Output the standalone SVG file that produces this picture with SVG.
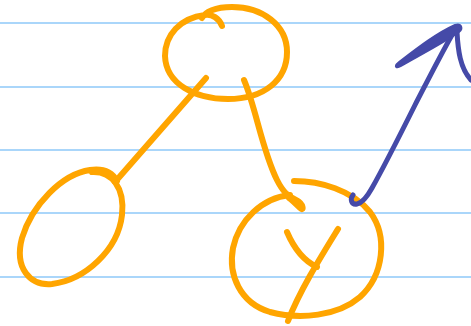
<svg xmlns="http://www.w3.org/2000/svg" width="471" height="326" viewBox="0 0 471 326">
<style>
.rule{stroke:#aad6fa;stroke-width:2;fill:none}
.o{stroke:#ffa500;stroke-width:6;fill:none;stroke-linecap:round;stroke-linejoin:round}
.b{stroke:#454aa8;stroke-width:5;fill:none;stroke-linecap:round;stroke-linejoin:round}
</style>
<rect width="471" height="326" fill="#ffffff"/>
<g id="paper">
<line class="rule" x1="0" y1="23" x2="471" y2="23"/>
<line class="rule" x1="0" y1="87" x2="471" y2="87"/>
<line class="rule" x1="0" y1="150" x2="471" y2="150"/>
<line class="rule" x1="0" y1="213" x2="471" y2="213"/>
<line class="rule" x1="0" y1="277" x2="471" y2="277"/>
</g>
<g id="node-top">
<path class="o" d="M222,26 C219,18 212,14 205,15 C180,18 165,35 165,56 C166,84 195,99 228,99 C264,99 287,80 287,52 C287,25 262,7 232,7 C215,7 205,12 202,18"/>
</g>
<g id="node-left">
<path class="o" d="M117,181 C112,172 104,168 90,170 C62,174 32,205 22,238 C14,268 30,286 52,284 C85,280 118,250 122,215 C125,188 112,171 92,172"/>
</g>
<g id="node-y">
<path class="o" d="M294,181 C320,181 352,190 370,212 C388,236 384,275 360,297 C338,316 300,320 270,312 C240,303 228,275 233,248 C239,220 262,198 290,195"/>
<path class="o" d="M287,232 C293,246 302,260 317,267"/>
<path class="o" d="M338,229 C322,255 300,290 288,321"/>
</g>
<g id="connectors">
<path class="o" d="M206,78 L115,182"/>
<path class="o" d="M244,80 C256,108 262,150 277,180 C283,192 288,196 296,200 C304,204 304,212 300,208 C296,204 292,200 289,198"/>
<path class="b" d="M353,195 C350,199 351,205 357,204 C362,203 367,197 372,188 C385,165 400,135 415,105 C428,80 442,52 456,28"/>
<path d="M398,63 C415,50 435,34 455,25 C462,23 463,29 459,32 C445,42 420,55 401,66 C396,69 394,66 398,63 Z" fill="#454aa8" stroke="#454aa8" stroke-width="2" stroke-linejoin="round"/>
<path class="b" d="M457,32 C458,50 460,68 471,80"/>
</g>
</svg>
